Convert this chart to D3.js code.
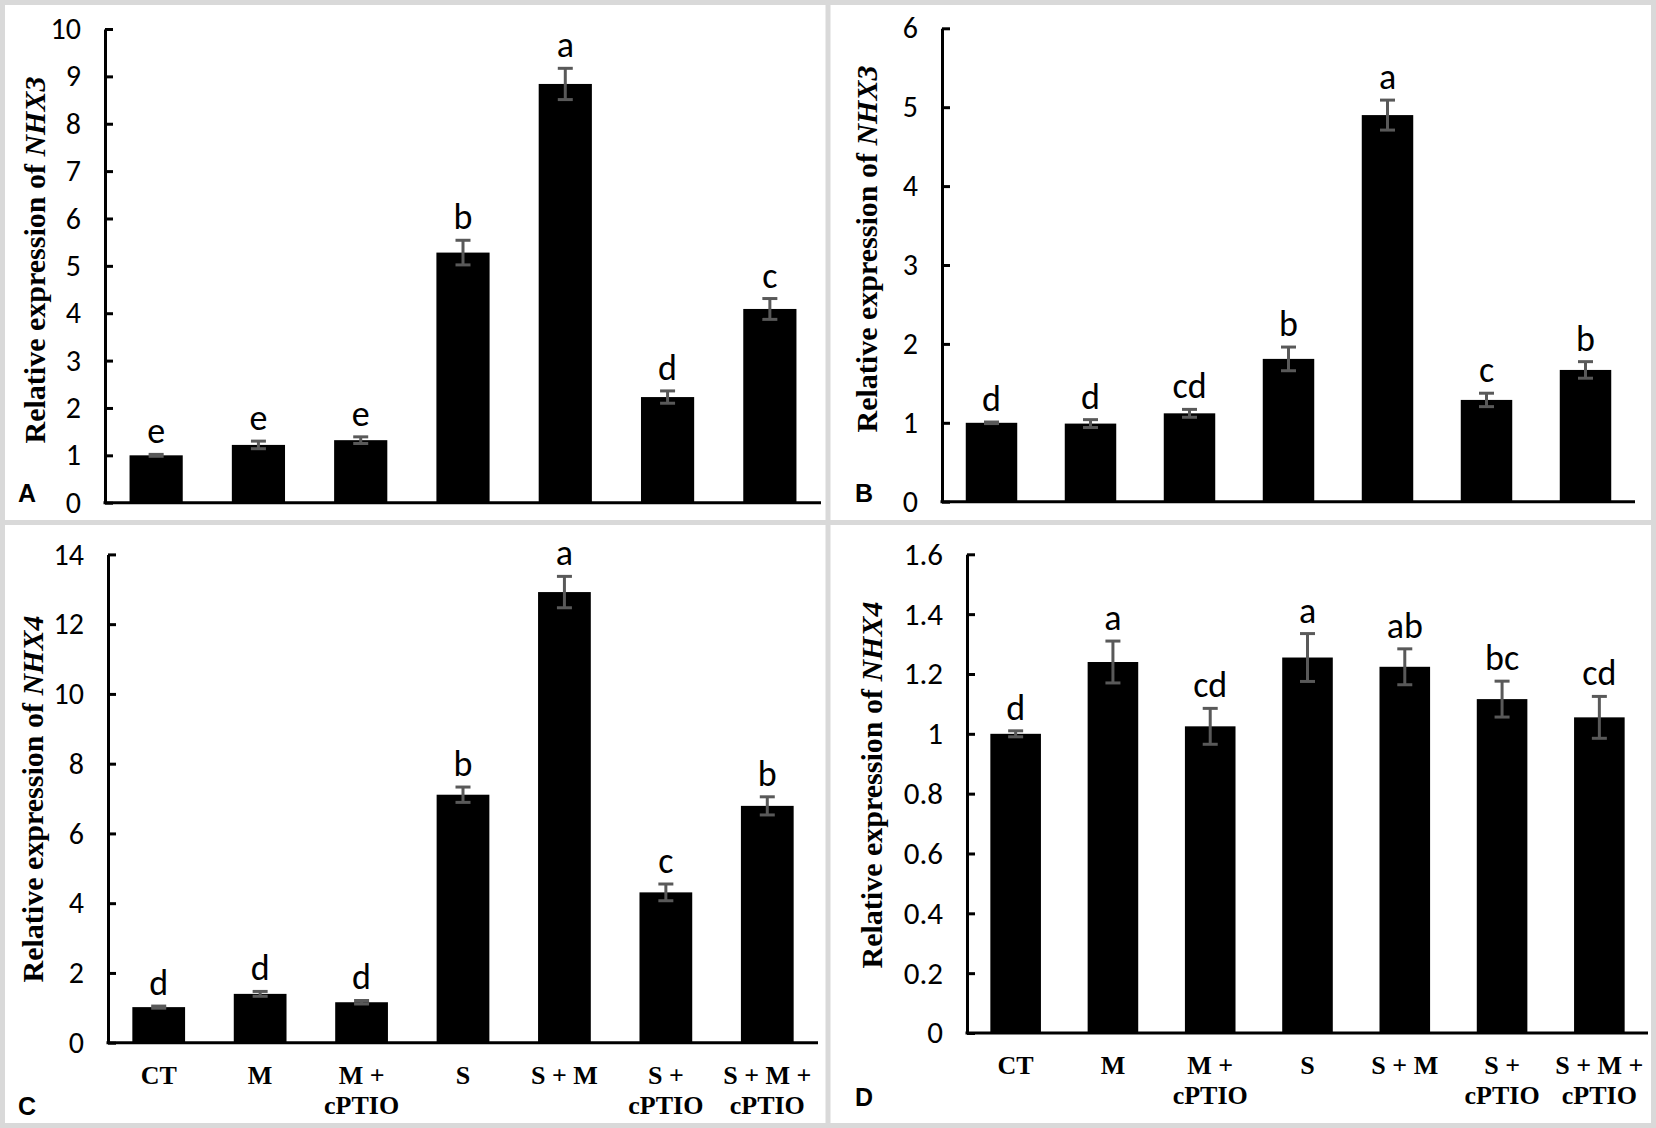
<!DOCTYPE html>
<html>
<head>
<meta charset="utf-8">
<script src="https://cdn.jsdelivr.net/npm/d3@7"></script>
<style>
  body { margin: 0; background: #fff; }
  svg { display: block; }
</style>
</head>
<body>
<svg width="1656" height="1128"></svg>
<script>
const svg = d3.select('svg');

// DATA
const categories = ['CT', 'M', 'M + cPTIO', 'S', 'S + M', 'S + cPTIO', 'S + M + cPTIO'];

const meansA = [1.00, 1.22, 1.32, 5.28, 8.84, 2.23, 4.09];
const errorsA = [0.02, 0.08, 0.07, 0.26, 0.33, 0.13, 0.22];
const lettersA = ['e', 'e', 'e', 'b', 'a', 'd', 'c'];
const ticksA = [0, 1, 2, 3, 4, 5, 6, 7, 8, 9, 10];

const meansB = [1.00, 0.99, 1.12, 1.81, 4.90, 1.29, 1.67];
const errorsB = [0.01, 0.05, 0.05, 0.15, 0.19, 0.085, 0.105];
const lettersB = ['d', 'd', 'cd', 'b', 'a', 'c', 'b'];
const ticksB = [0, 1, 2, 3, 4, 5, 6];

const meansC = [1.02, 1.40, 1.16, 7.11, 12.92, 4.31, 6.79];
const errorsC = [0.03, 0.07, 0.05, 0.22, 0.45, 0.24, 0.26];
const lettersC = ['d', 'd', 'd', 'b', 'a', 'c', 'b'];
const ticksC = [0, 2, 4, 6, 8, 10, 12, 14];

const meansD = [1.00, 1.24, 1.025, 1.255, 1.224, 1.116, 1.055];
const errorsD = [0.01, 0.07, 0.06, 0.08, 0.06, 0.06, 0.07];
const lettersD = ['d', 'a', 'cd', 'a', 'ab', 'bc', 'cd'];
const ticksD = [0, 0.2, 0.4, 0.6, 0.8, 1, 1.2, 1.4, 1.6];

// LAYOUT
const panels = [
  { tag: 'A', gene: 'NHX3', means: meansA, errors: errorsA, letters: lettersA, ticks: ticksA,
    x0: 105, x1: 821, yBottom: 502.7, yTop: 29, tickFont: 30,
    labelX: 45, labelY: 260, tagX: 18, tagY: 502, xLabels: false },
  { tag: 'B', gene: 'NHX3', means: meansB, errors: errorsB, letters: lettersB, ticks: ticksB,
    x0: 942, x1: 1635, yBottom: 501.7, yTop: 28.3, tickFont: 30,
    labelX: 877, labelY: 249, tagX: 855, tagY: 502, xLabels: false },
  { tag: 'C', gene: 'NHX4', means: meansC, errors: errorsC, letters: lettersC, ticks: ticksC,
    x0: 108, x1: 818, yBottom: 1042.7, yTop: 554.4, tickFont: 30,
    labelX: 43, labelY: 799, tagX: 18, tagY: 1115, xLabels: true },
  { tag: 'D', gene: 'NHX4', means: meansD, errors: errorsD, letters: lettersD, ticks: ticksD,
    x0: 967, x1: 1648, yBottom: 1033, yTop: 554.3, tickFont: 31,
    labelX: 882, labelY: 785, tagX: 855, tagY: 1106, xLabels: true }
];

const sansFont = 'Carlito, Calibri, Lato, sans-serif';
const serifFont = '"Liberation Serif", "Times New Roman", serif';
const errColor = '#595959';

// FRAME
const frame = svg.append('g')
  .attr('stroke', '#d9d9d9')
  .attr('stroke-width', 5);
[[0, 2.5, 1656, 2.5], [0, 1125.5, 1656, 1125.5], [2.5, 0, 2.5, 1128],
 [1653.5, 0, 1653.5, 1128], [828, 0, 828, 1128], [0, 522.5, 1656, 522.5]]
  .forEach(l => frame.append('line')
    .attr('x1', l[0]).attr('y1', l[1])
    .attr('x2', l[2]).attr('y2', l[3]));

// PANELS
panels.forEach(p => {
  const g = svg.append('g');

  const x = d3.scaleBand()
    .domain(categories)
    .range([p.x0, p.x1])
    .paddingInner(0.48)
    .paddingOuter(0.24);

  const y = d3.scaleLinear()
    .domain([p.ticks[0], p.ticks[p.ticks.length - 1]])
    .range([p.yBottom, p.yTop]);

  const rows = categories.map((c, i) => ({
    cat: c, mean: p.means[i], err: p.errors[i], letter: p.letters[i]
  }));

  // bars
  g.selectAll('rect.bar')
    .data(rows)
    .join('rect')
      .attr('class', 'bar')
      .attr('x', d => x(d.cat))
      .attr('y', d => y(d.mean))
      .attr('width', x.bandwidth())
      .attr('height', d => y(0) - y(d.mean))
      .attr('fill', '#000');

  // error bars
  const cap = 7.5;
  const eb = g.selectAll('g.err')
    .data(rows)
    .join('g')
      .attr('class', 'err')
      .attr('stroke', errColor)
      .attr('stroke-width', 3);
  eb.append('line')
    .attr('x1', d => x(d.cat) + x.bandwidth() / 2)
    .attr('x2', d => x(d.cat) + x.bandwidth() / 2)
    .attr('y1', d => y(d.mean + d.err))
    .attr('y2', d => y(d.mean - d.err));
  eb.append('line')
    .attr('x1', d => x(d.cat) + x.bandwidth() / 2 - cap)
    .attr('x2', d => x(d.cat) + x.bandwidth() / 2 + cap)
    .attr('y1', d => y(d.mean + d.err))
    .attr('y2', d => y(d.mean + d.err));
  eb.append('line')
    .attr('x1', d => x(d.cat) + x.bandwidth() / 2 - cap)
    .attr('x2', d => x(d.cat) + x.bandwidth() / 2 + cap)
    .attr('y1', d => y(d.mean - d.err))
    .attr('y2', d => y(d.mean - d.err));

  // significance letters
  g.selectAll('text.letter')
    .data(rows)
    .join('text')
      .attr('class', 'letter')
      .attr('x', d => x(d.cat) + x.bandwidth() / 2)
      .attr('y', d => y(d.mean + d.err) - 11)
      .attr('text-anchor', 'middle')
      .attr('font-family', sansFont)
      .attr('font-size', 36)
      .attr('fill', '#000')
      .text(d => d.letter);

  // y axis, ticks pointing inside
  const yAxis = g.append('g')
    .attr('transform', `translate(${p.x0},0)`)
    .call(d3.axisLeft(y)
      .tickValues(p.ticks)
      .tickFormat(d => String(d))
      .tickSizeInner(-8)
      .tickSizeOuter(0)
      .tickPadding(24));
  yAxis.select('.domain')
    .attr('stroke', '#000')
    .attr('stroke-width', 3);
  yAxis.selectAll('.tick line')
    .attr('stroke', '#000')
    .attr('stroke-width', 3);
  yAxis.selectAll('.tick text')
    .attr('font-family', sansFont)
    .attr('font-size', p.tickFont)
    .attr('fill', '#000');

  // x axis line
  g.append('line')
    .attr('x1', p.x0 - 1.5)
    .attr('x2', p.x1)
    .attr('y1', y(0))
    .attr('y2', y(0))
    .attr('stroke', '#000')
    .attr('stroke-width', 3);

  // category labels
  if (p.xLabels) {
    const lbl = g.selectAll('text.cat')
      .data(categories)
      .join('text')
        .attr('class', 'cat')
        .attr('text-anchor', 'middle')
        .attr('font-family', serifFont)
        .attr('font-weight', 'bold')
        .attr('font-size', 26)
        .attr('fill', '#000');
    lbl.each(function(c) {
      const i = c.indexOf('cPTIO');
      const lines = i > 0 ? [c.slice(0, i).trim(), 'cPTIO'] : [c];
      const cx = x(c) + x.bandwidth() / 2;
      d3.select(this).selectAll('tspan')
        .data(lines)
        .join('tspan')
          .attr('x', cx)
          .attr('y', (d, k) => y(0) + 41 + k * 30)
          .text(d => d);
    });
  }

  // y axis title
  const title = g.append('text')
    .attr('transform', `translate(${p.labelX},${p.labelY}) rotate(-90)`)
    .attr('text-anchor', 'middle')
    .attr('font-family', serifFont)
    .attr('font-weight', 'bold')
    .attr('font-size', 30)
    .attr('fill', '#000');
  title.append('tspan').text('Relative expression of ');
  title.append('tspan').attr('font-style', 'italic').text(p.gene);

  // panel tag
  g.append('text')
    .attr('x', p.tagX)
    .attr('y', p.tagY)
    .attr('font-family', '"Liberation Sans", Arial, sans-serif')
    .attr('font-weight', 'bold')
    .attr('font-size', 25)
    .attr('fill', '#000')
    .text(p.tag);
});
</script>
</body>
</html>
